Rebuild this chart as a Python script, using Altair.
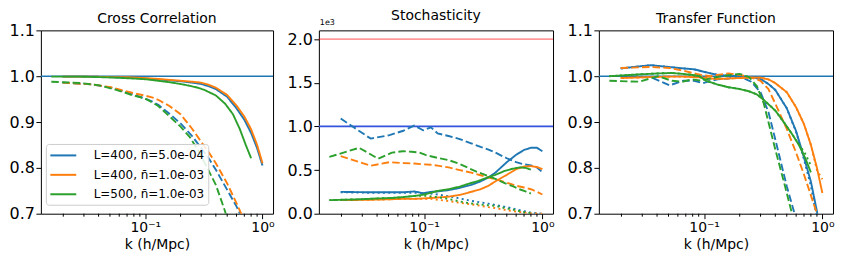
import altair as alt
import pandas as pd

# ---------------- data ----------------
SIMS = ["L=400, n\u0304=5.0e-04", "L=400, n\u0304=1.0e-03", "L=500, n\u0304=1.0e-03"]
COLORS = ["#1f77b4", "#ff7f0e", "#2ca02c"]
STYLES = ["solid", "dashed", "dotted"]

K400 = [0.0197, 0.0353, 0.051, 0.0667, 0.0824, 0.098, 0.114, 0.13, 0.161, 0.2,
        0.25, 0.3, 0.35, 0.4, 0.5, 0.6, 0.7, 0.8, 0.9, 1.0]
K500 = [0.0158, 0.0282, 0.0408, 0.0534, 0.0659, 0.0784, 0.0912, 0.104, 0.129, 0.16,
        0.2, 0.24, 0.28, 0.32, 0.4, 0.48, 0.56, 0.64, 0.72, 0.8]

X_MAJOR = [0.1, 1.0]
X_MINOR = [0.02, 0.03, 0.04, 0.05, 0.06, 0.07, 0.08, 0.09,
           0.2, 0.3, 0.4, 0.5, 0.6, 0.7, 0.8, 0.9]
X_DOMAIN = [0.01288, 1.2303]

# Cross correlation
cc_blue_solid = [.999, .999, .998, .997, .996, .995, .994, .993, .991, .989, .986, .983, .978, .972, .955, .930, .905, .876, .843, .805]
cc_orange_solid = [.999, .999, .998, .998, .997, .996, .995, .994, .992, .990, .988, .986, .981, .975, .959, .936, .912, .884, .850, .810]
cc_green_solid = [.999, .999, .998, .997, .996, .995, .994, .993, .990, .987, .983, .979, .975, .970, .958, .940, .917, .885, .850, .821]
cc_blue_dash = [.986, .982, .975, .966, .958, .952, .945, .937, .918, .897, .870, .843, .820, .796, .752, .716, .680, .62]
cc_orange_dash = [.986, .982, .976, .968, .962, .958, .954, .948, .935, .917, .886, .857, .833, .810, .766, .723, .685, .63]
cc_green_dash = [.988, .985, .980, .972, .965, .958, .954, .949, .935, .913, .890, .867, .840, .812, .763, .705, .64]

# Stochasticity (units of 1e3)
st_blue_solid = [.25, .245, .245, .245, .255, .235, .25, .255, .27, .295, .33, .37, .415, .47, .59, .675, .73, .755, .755, .715]
st_orange_solid = [.155, .16, .165, .17, .17, .175, .18, .185, .195, .215, .25, .28, .32, .37, .445, .51, .54, .545, .535, .51]
st_green_solid = [.155, .165, .175, .18, .19, .20, .21, .225, .26, .28, .31, .345, .37, .40, .445, .49, .515, .53, .525, .505]
st_blue_dash = [1.09, .86, .90, .95, 1.01, .955, .99, .92, .89, .855, .805, .765, .735, .70, .635, .59, .565, .553, .53, .475]
st_orange_dash = [.66, .55, .59, .58, .575, .565, .56, .55, .53, .50, .47, .44, .415, .395, .355, .32, .30, .28, .25, .22]
st_green_dash = [.65, .755, .63, .70, .715, .71, .70, .67, .64, .615, .57, .52, .48, .45, .40, .35, .315, .28, .255, .23]
st_blue_dot = [.245, .24, .24, .24, .24, .235, .23, .22, .20, .175, .147, .13, .115, .10, .075, .05, .03, .012, .005, .0]
st_orange_dot = [.155, .16, .165, .17, .17, .17, .17, .16, .145, .125, .108, .09, .075, .065, .04, .025, .012, .006, .002, .0]
st_green_dot = [.155, .165, .175, .18, .19, .20, .205, .205, .19, .17, .14, .12, .11, .10, .09, .065, .048, .03, .015, .005]

# Transfer function
tf_blue_solid = [1.017, 1.024, 1.02, 1.017, 1.015, 1.01, 1.006, 1.003, 1.001, 1.0, .998, .994, .983, .97, .93, .88, .822, .77, .705, .64]
tf_orange_solid = [.996, .998, .999, .999, .998, .997, .995, .994, .995, .996, .997, .997, .993, .985, .965, .932, .895, .85, .80, .745]
tf_green_solid = [1.0, 1.004, 1.006, 1.007, 1.005, 1.003, 1.0, .99, .982, .976, .972, .967, .96, .948, .925, .897, .872, .848, .82, .79]
tf_blue_dash = [1.0, .998, .98, .99, .99, .985, .99, .993, .995, 1.0, .988, .965, .922, .862, .76, .688, .58]
tf_orange_dash = [1.018, 1.02, 1.018, 1.012, 1.006, 1.002, 1.0, 1.003, 1.006, 1.003, .997, .99, .972, .94, .885, .833, .785, .74, .70, .655]
tf_green_dash = [.99, .988, 1.0, .99, .988, .993, .991, .993, .998, 1.002, 1.005, .998, .978, .94, .84, .763, .695]
tf_blue_dot = [1.017, 1.024, 1.02, 1.017, 1.015, 1.01, 1.006, 1.003, 1.001, 1.0, .998, .994, .983, .97, .93, .878, .818, .76, .69, .62]
tf_orange_dot = [.996, .998, .999, .999, .998, .997, .995, .994, .995, .996, .997, .997, .993, .985, .965, .932, .895, .85, .795, .775]
tf_green_dot = [1.0, 1.004, 1.006, 1.007, 1.005, 1.003, 1.0, .99, .982, .976, .972, .967, .96, .948, .925, .897, .872, .85, .83, .805]

CC = {0: {"solid": cc_blue_solid, "dashed": cc_blue_dash},
      1: {"solid": cc_orange_solid, "dashed": cc_orange_dash},
      2: {"solid": cc_green_solid, "dashed": cc_green_dash}}
ST = {0: {"solid": st_blue_solid, "dashed": st_blue_dash, "dotted": st_blue_dot},
      1: {"solid": st_orange_solid, "dashed": st_orange_dash, "dotted": st_orange_dot},
      2: {"solid": st_green_solid, "dashed": st_green_dash, "dotted": st_green_dot}}
TF = {0: {"solid": tf_blue_solid, "dashed": tf_blue_dash, "dotted": tf_blue_dot},
      1: {"solid": tf_orange_solid, "dashed": tf_orange_dash, "dotted": tf_orange_dot},
      2: {"solid": tf_green_solid, "dashed": tf_green_dash, "dotted": tf_green_dot}}
KGRID = {0: K400, 1: K400, 2: K500}

# ---------------- chart ----------------
FONT = "DejaVu Sans"
H = 184
YEXT = 32

x_scale = alt.Scale(type="log", domain=X_DOMAIN, nice=False, zero=False)
color_scale = alt.Scale(domain=SIMS, range=COLORS)
dash_scale = alt.Scale(domain=STYLES, range=[[1, 0], [7.5, 3.2], [2, 3.3]])

x_axis = alt.Axis(
    values=X_MAJOR, title="k (h/Mpc)",
    labelExpr="datum.value < 0.5 ? '10\u207b\u00b9' : '10\u2070'",
    tickSize=5, labelPadding=2, titlePadding=3, grid=False, domain=False,
    labelFontSize=14, labelFlush=False)

legend = alt.Legend(title=None, orient="none", legendX=5, legendY=114,
                    symbolType="M-2,0H2", symbolSize=169, symbolStrokeWidth=2,
                    symbolOffset=6, labelOffset=23, labelFont=FONT, labelFontSize=12,
                    labelColor="black", fillColor="rgba(255,255,255,0.85)",
                    strokeColor="#cccccc", cornerRadius=3, padding=4, rowPadding=5.5)


def sim_df(series, i):
    rows = []
    for style, vals in series[i].items():
        for k, v in zip(KGRID[i], vals):
            rows.append({"k": k, "v": v, "sim": SIMS[i], "style": style})
    return pd.DataFrame(rows)


minor_df = pd.DataFrame({"k": X_MINOR})


def panel(title, series, ydomain, yticks, refs, with_legend, width, extra=None):
    y_axis = alt.Axis(values=yticks, format=".1f", tickSize=5, labelPadding=1.5,
                      labelFontSize=16, title=None, grid=False, domain=False,
                      minExtent=YEXT, maxExtent=YEXT)
    y_enc = alt.Y("v:Q", scale=alt.Scale(domain=ydomain, nice=False, zero=False), axis=y_axis)
    layers = []
    for val, col, op in refs:
        layers.append(alt.Chart(pd.DataFrame({"v": [val]})).mark_rule(
            color=col, opacity=op, strokeWidth=1.6).encode(y=y_enc))
    for i in range(3):
        layers.append(alt.Chart(sim_df(series, i)).mark_line(clip=True, strokeWidth=1.9).encode(
            x=alt.X("k:Q", scale=x_scale, axis=x_axis),
            y=y_enc,
            color=alt.Color("sim:N", scale=color_scale, legend=legend if with_legend else None),
            strokeDash=alt.StrokeDash("style:N", scale=dash_scale, legend=None),
        ))
    # minor log ticks below the frame
    layers.append(alt.Chart(minor_df).mark_rule(color="black", strokeWidth=1).encode(
        x=alt.X("k:Q", scale=x_scale, axis=x_axis),
        y=alt.value(H), y2=alt.value(H + 3)))
    if extra is not None:
        layers.append(extra)
    return alt.layer(*layers).properties(
        width=width, height=H,
        title=alt.TitleParams(title, frame="group", offset=-4))


exp_text = alt.Chart(pd.DataFrame({"t": ["1e3"]})).mark_text(
    align="left", baseline="bottom", fontSize=8, font=FONT, color="black"
).encode(x=alt.value(1), y=alt.value(-3), text="t:N")

p1 = panel("Cross Correlation", CC, [0.7, 1.1], [0.7, 0.8, 0.9, 1.0, 1.1],
           [(1.0, "#1f77b4", 1.0)], True, 233)
p2 = panel("Stochasticity", ST, [0.0, 2.1], [0.0, 0.5, 1.0, 1.5, 2.0],
           [(2.0, "#ff0000", 0.4), (1.0, "#3355dd", 1.0)], False, 235, exp_text)
p3 = panel("Transfer Function", TF, [0.7, 1.1], [0.7, 0.8, 0.9, 1.0, 1.1],
           [(1.0, "#1f77b4", 1.0)], False, 235)

chart = alt.hconcat(p1, p2, p3, spacing=11).resolve_scale(
    color="independent", strokeDash="independent"
).properties(padding=0, background="white").configure_view(
    stroke="black", strokeWidth=1
).configure_axis(
    labelFont=FONT, titleFont=FONT, labelFontSize=14, titleFontSize=14,
    titleFontWeight="normal", labelColor="black", titleColor="black",
    tickColor="black", tickWidth=1
).configure_title(
    font=FONT, fontSize=14, fontWeight="normal", color="black"
)

chart.save("out.html", embed_options={"renderer": "svg", "actions": False})
